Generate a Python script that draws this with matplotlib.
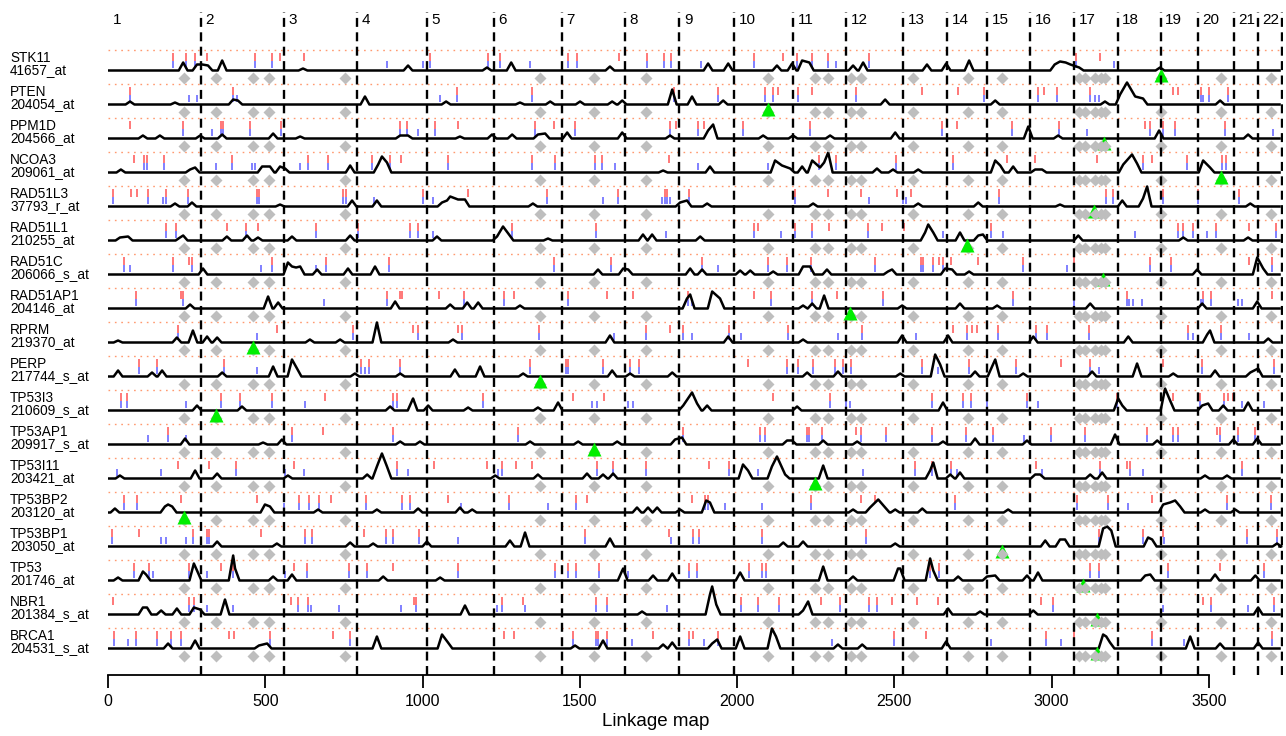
import numpy as np
import matplotlib
matplotlib.use("Agg")
import matplotlib.pyplot as plt
from matplotlib.transforms import blended_transform_factory

plt.rcParams['font.family'] = ['Liberation Sans', 'DejaVu Sans']

# chromosome starts on the linkage map (cM) and labels
chrom_start = [0, 296, 560, 792, 1013, 1228, 1444, 1643, 1817, 1992, 2179,
               2348, 2529, 2669, 2795, 2933, 3073, 3210, 3347, 3466, 3579, 3657]
chrom_label = [str(i) for i in range(1, 23)]
map_end = 3736

# positions of the probed genes (grey diamonds, same in every row)
gene_marks = [242, 344, 461, 512, 754, 1374, 1546, 1712, 2097, 2249, 2288,
              2361, 2393, 2558, 2733, 2841, 3086, 3105, 3137, 3156, 3169,
              3347, 3538, 3697]

genes = ['STK11', 'PTEN', 'PPM1D', 'NCOA3', 'RAD51L3', 'RAD51L1', 'RAD51C',
         'RAD51AP1', 'RPRM', 'PERP', 'TP53I3', 'TP53AP1', 'TP53I11',
         'TP53BP2', 'TP53BP1', 'TP53', 'NBR1', 'BRCA1']
probes = ['41657_at', '204054_at', '204566_at', '209061_at', '37793_r_at',
          '210255_at', '206066_s_at', '204146_at', '219370_at', '217744_s_at',
          '210609_s_at', '209917_s_at', '203421_at', '203120_at', '203050_at',
          '201746_at', '201384_s_at', '204531_s_at']
gene_pos = [3347, 2097, 3166, 3538, 3134, 2730, 3163, 2358, 461, 1374, 344,
            1546, 2249, 242, 2841, 3099, 3144, 3144]

# linkage peaks per probe: (cM, height)
peaks_STK11 = [(239, 8), (283, 6), (300, 6), (318, 5), (363, 10), (620, 2), (954, 5), (1205, 3),
               (1282, 8), (1596, 4), (1908, 7), (1972, 7), (2127, 5), (2175, 7), (2207, 10),
               (2230, 8), (2369, 5), (2401, 8), (2604, 6), (2665, 7), (2738, 10), (3010, 6),
               (3027, 9), (3045, 8), (3060, 6), (3088, 3), (3345, 3)]
peaks_PTEN = [(70, 3), (213, 2), (398, 5), (413, 4), (817, 8), (1075, 3), (1310, 2), (1406, 3),
              (1501, 3), (1603, 3), (1635, 4), (1794, 15), (1857, 8), (1956, 4), (2471, 5),
              (2821, 4), (3170, 3), (3218, 10), (3240, 22), (3266, 8), (3291, 6), (3536, 4)]
peaks_PPM1D = [(111, 3), (165, 3), (293, 3), (363, 4), (525, 5), (611, 2), (929, 3), (954, 3),
               (1119, 2), (1221, 4), (1285, 4), (1367, 4), (1390, 5), (1460, 6), (1635, 6),
               (1787, 3), (1908, 8), (1924, 14), (2083, 3), (2178, 3), (2296, 3), (2503, 6),
               (2926, 12), (3021, 3), (3342, 8), (3625, 4)]
peaks_NCOA3 = [(41, 3), (261, 3), (277, 5), (490, 6), (515, 6), (547, 6), (563, 4), (770, 7),
               (859, 8), (871, 16), (887, 10), (1765, 2), (1914, 6), (2121, 12), (2143, 7),
               (2169, 4), (2207, 6), (2239, 12), (2264, 5), (2277, 10), (2290, 20), (2445, 4),
               (2496, 3), (2576, 3), (2821, 12), (2837, 7), (2878, 6), (2948, 3), (2970, 3),
               (3228, 8), (3256, 18), (3272, 9), (3482, 12), (3504, 5)]
peaks_RAD51L3 = [(213, 3), (267, 4), (547, 2), (776, 6), (855, 6), (1062, 4), (1078, 6),
                 (1088, 10), (1113, 7), (1135, 7), (1351, 3), (1819, 4), (1841, 6), (1905, 3),
                 (2242, 3), (2576, 3), (2767, 4), (3027, 2), (3225, 6), (3291, 8), (3304, 20),
                 (3632, 3)]
peaks_RAD51L1 = [(38, 3), (64, 4), (229, 3), (239, 5), (378, 4), (442, 5), (477, 3), (585, 4),
                 (770, 5), (1046, 4), (1237, 4), (1256, 14), (1275, 6), (1399, 2), (1701, 6),
                 (1730, 6), (1883, 4), (2598, 8), (2608, 16), (2624, 8), (2709, 8), (2767, 5),
                 (2782, 6), (3085, 5), (3419, 3), (3625, 3)]
peaks_RAD51C = [(302, 6), (572, 12), (585, 8), (598, 7), (611, 8), (665, 5), (763, 6), (849, 8),
                (1558, 5), (1638, 6), (1654, 5), (1851, 6), (1889, 5), (2010, 4), (2042, 4),
                (2115, 3), (2210, 8), (2232, 8), (2286, 5), (2480, 3), (2493, 5), (2662, 6),
                (2684, 5), (2738, 3), (3463, 5), (3654, 17), (3673, 6)]
peaks_RAD51AP1 = [(261, 4), (509, 12), (541, 6), (913, 7), (1088, 4), (1142, 6), (1177, 6),
                  (1310, 3), (1841, 10), (1851, 14), (1921, 17), (1946, 10), (2210, 3),
                  (2239, 5), (2277, 13), (2525, 3), (2709, 5), (2827, 3), (3123, 5), (3479, 5),
                  (3654, 7)]
peaks_RPRM = [(32, 2), (219, 5), (270, 12), (315, 6), (347, 5), (642, 3), (738, 3), (855, 20),
              (1097, 3), (1596, 7), (1972, 6), (2210, 3), (2525, 7), (2671, 7), (2942, 6),
              (3244, 6), (3495, 8), (3504, 12), (3689, 4)]
peaks_PERP = [(32, 6), (140, 4), (172, 6), (363, 4), (525, 10), (585, 17), (601, 8), (785, 3),
              (929, 3), (1103, 7), (1183, 10), (1320, 3), (1603, 6), (1660, 3), (1794, 4),
              (2223, 4), (2321, 5), (2519, 3), (2630, 22), (2646, 12), (2757, 5), (2811, 10),
              (2821, 17), (2910, 3), (3129, 5), (3272, 13), (3387, 3), (3520, 6), (3632, 4),
              (3657, 8)]
peaks_TP53I3 = [(283, 5), (426, 4), (897, 4), (967, 10), (970, 12), (1018, 5), (1145, 3),
                (1367, 3), (1431, 8), (1829, 5), (1857, 18), (1873, 7), (1905, 5), (2191, 4),
                (2655, 8), (3212, 12), (3225, 5), (3361, 22), (3377, 10), (3479, 5), (3498, 7),
                (3546, 5), (3625, 8)]
peaks_TP53AP1 = [(245, 6), (493, 2), (553, 5), (929, 3), (992, 3), (1342, 3), (1495, 3),
                 (1619, 3), (1803, 5), (1825, 7), (2159, 4), (2175, 4), (2274, 4), (2382, 3),
                 (2655, 3), (2757, 6), (2922, 4), (3202, 10), (3336, 4), (3578, 5), (3654, 6)]
peaks_TP53I11 = [(38, 3), (277, 8), (347, 5), (572, 3), (824, 4), (855, 12), (871, 25),
                 (887, 12), (1231, 3), (1367, 4), (1523, 5), (1574, 4), (1606, 5), (2019, 14),
                 (2035, 8), (2111, 12), (2127, 22), (2153, 4), (2274, 13), (2614, 8),
                 (2624, 16), (2678, 4), (2709, 6), (2948, 4), (2964, 4), (3123, 4), (3161, 6),
                 (3488, 3), (3558, 3)]
peaks_TP53BP2 = [(22, 4), (181, 6), (191, 8), (204, 6), (499, 8), (515, 6), (668, 3), (855, 3),
                 (986, 4), (1119, 5), (1158, 3), (1682, 5), (1717, 5), (1746, 5), (1819, 3),
                 (1902, 12), (1914, 10), (2369, 3), (2423, 5), (2449, 13), (2471, 5),
                 (2503, 3), (2589, 4), (2862, 3), (3355, 8), (3377, 10), (3393, 12),
                 (3409, 6), (3488, 3), (3584, 3)]
peaks_TP53BP1 = [(347, 5), (537, 3), (770, 4), (843, 3), (1014, 5), (1278, 6), (1326, 14),
                 (1596, 8), (2147, 4), (2210, 5), (2503, 3), (2980, 6), (3027, 7), (3043, 7),
                 (3164, 18), (3177, 20), (3190, 16), (3307, 9), (3320, 7), (3717, 3)]
peaks_TP53 = [(32, 3), (111, 9), (121, 6), (273, 17), (283, 10), (398, 25), (404, 12),
              (525, 4), (585, 6), (875, 4), (1056, 3), (1635, 10), (1638, 12), (1733, 5),
              (1794, 7), (2010, 8), (2274, 14), (2369, 4), (2512, 12), (2519, 12), (2614, 22),
              (2624, 10), (2703, 4), (2795, 4), (2821, 5), (2922, 5), (2957, 8), (3298, 5),
              (3314, 6), (3520, 6), (3648, 5)]
peaks_NBR1 = [(111, 7), (124, 7), (169, 4), (219, 6), (273, 7), (293, 5), (372, 15), (1135, 9),
              (1698, 3), (1914, 20), (1921, 28), (1934, 10), (2210, 4), (2226, 13), (2671, 6),
              (2773, 3), (2942, 4), (3657, 7)]
peaks_BRCA1 = [(191, 5), (277, 8), (480, 3), (506, 5), (855, 12), (1062, 14), (1081, 6),
               (1485, 3), (1574, 8), (1765, 4), (1794, 6), (1921, 5), (1937, 9), (2010, 12),
               (2111, 20), (2124, 12), (2321, 4), (2398, 4), (2665, 7), (3164, 14), (3174, 12),
               (3186, 6), (3441, 12), (3536, 5), (3657, 6)]

# red / blue tick marks per probe: (cM, kind)
bars_STK11 = [(207, 'rb'), (248, 'rb'), (277, 'rb'), (315, 'r'), (467, 'rb'), (522, 'rb'),
              (547, 'r'), (623, 'r'), (887, 'b'), (1002, 'b'), (1024, 'rb'), (1208, 'rb'),
              (1245, 'rb'), (1342, 'b'), (1463, 'rb'), (1491, 'rb'), (1625, 'r'), (1714, 'rb'),
              (1768, 'rb'), (1791, 'rb'), (1886, 'b'), (2054, 'rb'), (2147, 'r'), (2191, 'rb'),
              (2239, 'rb'), (2290, 'rb'), (2315, 'b'), (2420, 'rb'), (3078, 'rb'), (3154, 'r'),
              (3198, 'b')]
bars_PTEN = [(70, 'rb'), (258, 'b'), (283, 'b'), (398, 'rb'), (410, 'b'), (1056, 'b'),
             (1110, 'rb'), (1348, 'rb'), (1800, 'rb'), (1940, 'rb'), (2089, 'rb'), (2115, 'rb'),
             (2131, 'r'), (2194, 'rb'), (2239, 'r'), (2379, 'rb'), (2589, 'r'), (2703, 'r'),
             (2786, 'rb'), (2957, 'rb'), (2977, 'r'), (3018, 'rb'), (3123, 'rb'), (3139, 'b'),
             (3151, 'b'), (3387, 'r'), (3403, 'r'), (3476, 'rb'), (3482, 'b'), (3501, 'rb'),
             (3562, 'rb')]
bars_PPM1D = [(70, 'r'), (239, 'rb'), (331, 'b'), (359, 'rb'), (366, 'rb'), (452, 'rb'),
              (550, 'rb'), (929, 'rb'), (951, 'rb'), (986, 'b'), (1040, 'rb'), (1113, 'r'),
              (1358, 'rb'), (1418, 'r'), (1485, 'rb'), (1787, 'rb'), (1806, 'r'), (1876, 'rb'),
              (1895, 'r'), (2019, 'rb'), (2232, 'rb'), (2652, 'rb'), (2700, 'r'), (2875, 'rb'),
              (3024, 'rb'), (3113, 'b'), (3298, 'r'), (3314, 'rb'), (3355, 'rb'), (3393, 'rb'),
              (3552, 'rb'), (3705, 'b')]
bars_NCOA3 = [(83, 'r'), (114, 'rb'), (124, 'rb'), (178, 'rb'), (343, 'b'), (394, 'rb'),
              (458, 'b'), (467, 'b'), (611, 'b'), (636, 'rb'), (700, 'rb'), (840, 'rb'),
              (897, 'rb'), (932, 'r'), (1081, 'rb'), (1348, 'rb'), (1421, 'rb'), (1549, 'rb'),
              (1571, 'rb'), (1612, 'b'), (1784, 'r'), (1876, 'b'), (2099, 'b'), (2261, 'rb'),
              (2315, 'rb'), (2506, 'rb'), (2687, 'rb'), (2859, 'r'), (2948, 'r'), (3145, 'r'),
              (3291, 'rb'), (3320, 'r'), (3431, 'rb'), (3543, 'rb'), (3556, 'rb')]
bars_RAD51L3 = [(16, 'rb'), (73, 'r'), (92, 'r'), (127, 'rb'), (175, 'b'), (184, 'rb'),
                (254, 'rb'), (474, 'rb'), (480, 'rb'), (747, 'rb'), (757, 'rb'), (846, 'b'),
                (1002, 'rb'), (1034, 'b'), (1145, 'r'), (1396, 'rb'), (1574, 'b'), (1622, 'rb'),
                (1762, 'b'), (1771, 'rb'), (1778, 'rb'), (1787, 'b'), (1848, 'rb'), (2185, 'rb'),
                (2290, 'r'), (2395, 'r'), (2420, 'b'), (2509, 'r'), (2528, 'b'), (2538, 'b'),
                (2554, 'r'), (2833, 'rb'), (3174, 'rb'), (3196, 'rb'), (3355, 'rb'),
                (3466, 'rb'), (3597, 'rb')]
bars_RAD51L1 = [(184, 'rb'), (216, 'rb'), (378, 'r'), (439, 'rb'), (477, 'r'), (661, 'rb'),
                (795, 'rb'), (960, 'rb'), (986, 'rb'), (1034, 'b'), (1285, 'rb'), (1552, 'rb'),
                (1774, 'b'), (2054, 'rb'), (2067, 'r'), (2140, 'b'), (2185, 'rb'), (2239, 'rb'),
                (2293, 'r'), (2417, 'rb'), (2461, 'r'), (2531, 'r'), (2655, 'b'), (2808, 'rb'),
                (2846, 'b'), (3266, 'b'), (3403, 'rb'), (3419, 'rb'), (3450, 'rb'), (3495, 'b'),
                (3523, 'rb'), (3628, 'r'), (3714, 'rb')]
bars_RAD51C = [(51, 'rb'), (70, 'b'), (207, 'rb'), (258, 'r'), (267, 'rb'), (487, 'b'),
               (522, 'rb'), (661, 'b'), (693, 'rb'), (894, 'rb'), (1418, 'rb'), (1600, 'rb'),
               (1889, 'rb'), (1940, 'b'), (2099, 'rb'), (2159, 'rb'), (2236, 'rb'), (2439, 'rb'),
               (2585, 'rb'), (2592, 'rb'), (2624, 'rb'), (2643, 'r'), (2655, 'rb'), (2681, 'r'),
               (2767, 'r'), (2910, 'rb'), (3050, 'b'), (3072, 'rb'), (3314, 'rb'), (3380, 'rb'),
               (3628, 'r'), (3702, 'rb')]
bars_RAD51AP1 = [(89, 'rb'), (232, 'r'), (239, 'rb'), (687, 'b'), (887, 'rb'), (929, 'r'),
                 (935, 'r'), (1053, 'r'), (1132, 'rb'), (1259, 'rb'), (1291, 'r'), (1463, 'rb'),
                 (1587, 'r'), (1670, 'r'), (1844, 'rb'), (1857, 'b'), (2054, 'r'), (2108, 'rb'),
                 (2239, 'rb'), (2318, 'r'), (2465, 'rb'), (2878, 'rb'), (3072, 'b'),
                 (3240, 'rb'), (3247, 'b'), (3260, 'b'), (3288, 'b'), (3476, 'b'), (3482, 'rb'),
                 (3508, 'rb'), (3593, 'b'), (3606, 'b'), (3702, 'r')]
bars_RPRM = [(223, 'rb'), (474, 'b'), (537, 'r'), (779, 'rb'), (970, 'r'), (986, 'rb'),
             (1113, 'r'), (1126, 'rb'), (1371, 'rb'), (1609, 'b'), (1711, 'rb'), (1787, 'r'),
             (1828, 'rb'), (1857, 'b'), (1975, 'rb'), (2013, 'b'), (2162, 'rb'), (2321, 'b'),
             (2398, 'rb'), (2569, 'b'), (2687, 'r'), (2732, 'rb'), (2748, 'r'), (2763, 'r'),
             (2830, 'rb'), (2951, 'rb'), (2986, 'rb'), (3120, 'rb'), (3434, 'rb'), (3450, 'b'),
             (3539, 'rb'), (3628, 'b')]
bars_PERP = [(99, 'rb'), (156, 'rb'), (369, 'rb'), (474, 'b'), (805, 'rb'), (817, 'b'),
             (830, 'rb'), (929, 'rb'), (1342, 'rb'), (1456, 'rb'), (1463, 'rb'), (1574, 'rb'),
             (1660, 'rb'), (1689, 'rb'), (2035, 'r'), (2159, 'rb'), (2194, 'rb'), (2242, 'rb'),
             (2312, 'rb'), (2337, 'rb'), (2363, 'rb'), (2589, 'rb'), (2639, 'b'), (2738, 'rb'),
             (2887, 'rb'), (3031, 'r'), (3123, 'rb'), (3151, 'b'), (3355, 'r'), (3479, 'rb'),
             (3708, 'rb')]
bars_TP53I3 = [(41, 'rb'), (60, 'rb'), (248, 'b'), (359, 'rb'), (420, 'rb'), (522, 'rb'),
               (626, 'b'), (690, 'r'), (906, 'rb'), (919, 'rb'), (1193, 'rb'), (1479, 'r'),
               (1539, 'b'), (1555, 'b'), (1577, 'r'), (1654, 'b'), (1670, 'b'), (2115, 'r'),
               (2296, 'rb'), (2347, 'b'), (2360, 'b'), (2620, 'rb'), (2719, 'rb'), (2744, 'rb'),
               (2795, 'b'), (2922, 'rb'), (2957, 'b'), (3209, 'rb'), (3387, 'r'), (3473, 'rb'),
               (3549, 'rb'), (3562, 'r'), (3578, 'r'), (3606, 'b'), (3676, 'b')]
bars_TP53AP1 = [(127, 'b'), (191, 'rb'), (248, 'b'), (585, 'rb'), (684, 'r'), (906, 'rb'),
                (1304, 'rb'), (1829, 'rb'), (2073, 'rb'), (2089, 'rb'), (2223, 'rb'),
                (2229, 'rb'), (2271, 'rb'), (2379, 'r'), (2395, 'rb'), (2475, 'rb'),
                (2620, 'rb'), (2728, 'rb'), (2814, 'rb'), (2913, 'b'), (2999, 'rb'),
                (3107, 'rb'), (3304, 'rb'), (3387, 'rb'), (3403, 'rb'), (3527, 'r'),
                (3536, 'rb'), (3593, 'rb'), (3648, 'rb')]
bars_TP53I11 = [(29, 'b'), (169, 'b'), (223, 'r'), (321, 'r'), (407, 'rb'), (563, 'b'),
                (591, 'r'), (623, 'b'), (919, 'rb'), (954, 'b'), (1037, 'r'), (1205, 'r'),
                (1240, 'b'), (1253, 'rb'), (1297, 'r'), (1348, 'r'), (1555, 'rb'), (1606, 'rb'),
                (1711, 'rb'), (1911, 'r'), (1975, 'rb'), (2067, 'b'), (2401, 'b'), (2566, 'rb'),
                (2620, 'rb'), (2681, 'rb'), (2700, 'b'), (2951, 'r'), (2970, 'b'), (3155, 'rb'),
                (3240, 'r'), (3250, 'rb'), (3291, 'b'), (3606, 'rb')]
bars_TP53BP2 = [(51, 'rb'), (92, 'rb'), (232, 'r'), (474, 'r'), (560, 'b'), (607, 'rb'),
                (639, 'rb'), (671, 'rb'), (709, 'r'), (820, 'rb'), (935, 'rb'), (960, 'rb'),
                (1081, 'r'), (1123, 'b'), (1275, 'rb'), (1399, 'b'), (1488, 'rb'), (1523, 'r'),
                (1857, 'r'), (1898, 'rb'), (1908, 'rb'), (1962, 'b'), (2080, 'b'), (2236, 'rb'),
                (2395, 'r'), (2439, 'r'), (2693, 'rb'), (3081, 'rb'), (3180, 'rb'), (3244, 'b'),
                (3320, 'r'), (3558, 'rb'), (3698, 'rb')]
bars_TP53BP1 = [(13, 'rb'), (99, 'r'), (169, 'b'), (184, 'b'), (248, 'b'), (270, 'rb'),
                (315, 'rb'), (321, 'rb'), (487, 'r'), (560, 'b'), (626, 'rb'), (649, 'rb'),
                (814, 'r'), (884, 'rb'), (906, 'rb'), (989, 'rb'), (1113, 'b'), (1517, 'rb'),
                (1784, 'r'), (1790, 'b'), (1860, 'rb'), (1879, 'rb'), (2080, 'rb'), (2410, 'rb'),
                (3151, 'rb'), (3291, 'rb'), (3355, 'r'), (3358, 'b'), (3622, 'rb'), (3717, 'rb')]
bars_TP53 = [(83, 'rb'), (130, 'rb'), (143, 'b'), (258, 'rb'), (315, 'b'), (359, 'r'),
             (398, 'rb'), (563, 'b'), (591, 'r'), (633, 'rb'), (766, 'rb'), (822, 'rb'),
             (906, 'r'), (1113, 'rb'), (1421, 'rb'), (1463, 'rb'), (1488, 'rb'), (1561, 'rb'),
             (1654, 'b'), (1848, 'rb'), (1873, 'rb'), (2038, 'rb'), (2080, 'rb'), (2092, 'rb'),
             (2614, 'rb'), (2643, 'rb'), (3123, 'rb'), (3151, 'rb'), (3371, 'rb'), (3536, 'r'),
             (3676, 'rb')]
bars_NBR1 = [(16, 'r'), (258, 'rb'), (273, 'rb'), (315, 'b'), (398, 'b'), (582, 'r'),
             (604, 'rb'), (636, 'rb'), (646, 'b'), (735, 'b'), (932, 'b'), (973, 'r'),
             (979, 'rb'), (1237, 'b'), (1253, 'rb'), (1320, 'r'), (1326, 'b'), (1552, 'rb'),
             (1587, 'rb'), (1778, 'b'), (2013, 'rb'), (2067, 'rb'), (2134, 'rb'), (2267, 'r'),
             (2328, 'rb'), (2420, 'rb'), (2445, 'rb'), (2493, 'r'), (2573, 'r'), (2639, 'r'),
             (2967, 'r'), (3005, 'rb'), (3355, 'b'), (3482, 'r'), (3508, 'rb'), (3625, 'b'),
             (3708, 'rb')]
bars_BRCA1 = [(19, 'rb'), (64, 'b'), (89, 'rb'), (156, 'rb'), (200, 'rb'), (232, 'rb'),
              (385, 'r'), (401, 'r'), (515, 'rb'), (716, 'r'), (770, 'rb'), (1259, 'r'),
              (1291, 'r'), (1479, 'rb'), (1552, 'rb'), (1558, 'rb'), (1587, 'rb'), (1666, 'b'),
              (1733, 'r'), (1848, 'rb'), (1860, 'r'), (1895, 'b'), (1940, 'rb'), (2302, 'b'),
              (2500, 'rb'), (2601, 'r'), (2808, 'b'), (2983, 'rb'), (3031, 'b'), (3072, 'r'),
              (3320, 'rb'), (3422, 'b'), (3702, 'rb')]

all_peaks = [peaks_STK11, peaks_PTEN, peaks_PPM1D, peaks_NCOA3, peaks_RAD51L3,
             peaks_RAD51L1, peaks_RAD51C, peaks_RAD51AP1, peaks_RPRM, peaks_PERP,
             peaks_TP53I3, peaks_TP53AP1, peaks_TP53I11, peaks_TP53BP2, peaks_TP53BP1,
             peaks_TP53, peaks_NBR1, peaks_BRCA1]
all_bars = [bars_STK11, bars_PTEN, bars_PPM1D, bars_NCOA3, bars_RAD51L3, bars_RAD51L1,
            bars_RAD51C, bars_RAD51AP1, bars_RPRM, bars_PERP, bars_TP53I3, bars_TP53AP1,
            bars_TP53I11, bars_TP53BP2, bars_TP53BP1, bars_TP53, bars_NBR1, bars_BRCA1]

# triangles that sit under the grey diamonds
under_marks = {'PPM1D', 'RAD51L3', 'RAD51C', 'TP53BP1', 'TP53', 'NBR1', 'BRCA1'}


def profile_line(peaks, w=14, end=3725):
    xs, ys = [0], [0]
    prev = None
    for x, h in sorted(peaks):
        if prev is None or x - w > prev + w:
            if prev is not None:
                xs.append(prev + w); ys.append(0)
            xs.append(x - w); ys.append(0)
        xs.append(x); ys.append(h)
        prev = x
    xs += [prev + w, end]
    ys += [0, 0]
    return np.array(xs), np.array(ys)


W, H = 1286, 736
fig = plt.figure(figsize=(W / 100, H / 100), dpi=100)
ax = fig.add_axes([108 / W, 1 - 675 / H, (1283 - 108) / W, 675 / H])
ax.set_xlim(0, map_end)
ax.set_ylim(0, 675)

red, blue = '#ff7878', '#8080ff'
ltrans = blended_transform_factory(ax.transAxes, ax.transData)

for i, g in enumerate(genes):
    base = 604.5 - 34 * i
    ax.plot([0, map_end], [base + 20.5] * 2, color='#ff9a70', lw=1.0,
            linestyle=(0, (1.2, 3.4)), zorder=1)
    for x, kind in all_bars[i]:
        if 'r' in kind:
            ax.vlines(x, base + 10, base + 17.5, color=red, lw=1.4, zorder=2)
        if 'b' in kind:
            ax.vlines(x, base + 2.5, base + 10, color=blue, lw=1.4, zorder=2)
    px, py = profile_line(all_peaks[i])
    ax.plot(px, base + py, color='black', lw=1.8, zorder=3, solid_joinstyle='round')
    ax.plot(gene_marks, [base - 7] * len(gene_marks), 'D', color='#bebebe', ms=5.8,
            mec='none', zorder=5)
    ax.plot(gene_pos[i], base - 4.5, '^', color='#00ee00', ms=9.5, mec='none',
            zorder=4 if g in under_marks else 6)
    ax.text(-0.0834, base + 12.5, g, transform=ltrans, fontsize=9.8, va='center', ha='left')
    ax.text(-0.0834, base + 0.5, probes[i], transform=ltrans, fontsize=9.8, va='center',
            ha='left')

for s, lab in zip(chrom_start, chrom_label):
    if s > 0:
        ax.plot([s, s], [0, 663], color='black', lw=1.7, linestyle=(0, (3.8, 2.3)), zorder=7)
    ax.text(s + 14, 655, lab, fontsize=11, va='center', ha='left')
ax.plot([map_end - 3] * 2, [0, 663], color='black', lw=1.7, linestyle=(0, (3.8, 2.3)),
        zorder=7)

for sp in ['top', 'right', 'left']:
    ax.spines[sp].set_visible(False)
ax.spines['bottom'].set_bounds(0, 3500)
ax.spines['bottom'].set_linewidth(1.3)
ax.set_yticks([])
ax.set_xticks(np.arange(0, 3501, 500))
ax.tick_params(axis='x', length=9, width=1.3, labelsize=11.5, pad=5)
ax.text(1740, -46, 'Linkage map', fontsize=13.5, ha='center', va='center')

fig.savefig('out.png', dpi=100)
